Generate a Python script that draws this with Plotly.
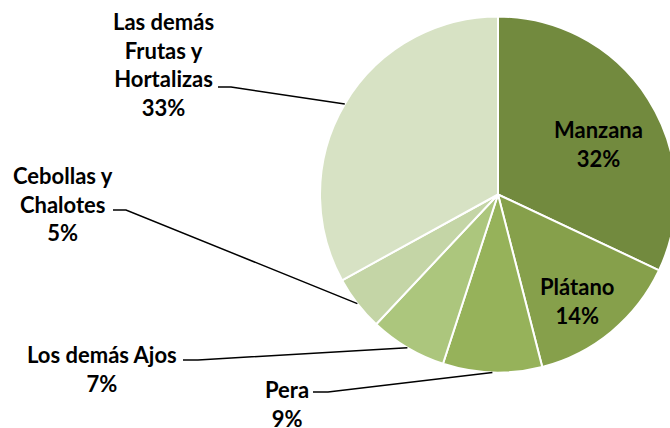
import math
import plotly.graph_objects as go

# data
labels = ["Manzana", "Plátano", "Pera", "Los demás Ajos",
          "Cebollas y Chalotes", "Las demás Frutas y Hortalizas"]
label_text = ["Manzana", "Plátano", "Pera", "Los demás Ajos",
              "Cebollas y<br>Chalotes", "Las demás<br>Frutas y<br>Hortalizas"]
shares = [32, 14, 9, 7, 5, 33]
colors = ["#728A3E", "#86A04B", "#96B25A", "#ACC67D", "#C4D5A6", "#D7E2C4"]

# figure is a bit wider than the window so the pie runs past the right edge
W, H = 690, 428
CX, CY, R = 498, 194.5, 178  # pie centre/radius in pixels

# label centres (px) and leader-line start points (None = inside slice)
label_pos = [(598, 144), (577, 301), (287, 404), (102, 369), (63, 204), (163, 64)]
leader_start = [None, None, [(313, 392), (328, 392)], [(183, 360), (198, 360)],
                [(113, 210), (126, 210)], [(218, 87), (231, 87)]]


def px(x, y):
    return x / W, 1 - y / H


x0, y1 = px(CX - R, CY - R)
x1, y0 = px(CX + R, CY + R)

fig = go.Figure(go.Pie(
    labels=labels,
    values=shares,
    sort=False,
    direction="clockwise",
    rotation=0,
    textinfo="none",
    hoverinfo="label+percent",
    marker=dict(colors=colors, line=dict(color="white", width=2)),
    domain=dict(x=[x0, x1], y=[y0, y1]),
    showlegend=False,
))

total = sum(shares)
cum = 0
for i, v in enumerate(shares):
    mid = (cum + v / 2) / total * 2 * math.pi
    cum += v
    x, y = px(*label_pos[i])
    fig.add_annotation(
        x=x, y=y, xref="paper", yref="paper", showarrow=False,
        text=f"{label_text[i]}<br>{round(v / total * 100)}%",
        font=dict(family="Lato", size=22, color="black", weight="bold"),
        xanchor="center", yanchor="middle", align="center",
    )
    if leader_start[i]:
        ex, ey = CX + R * math.sin(mid), CY - R * math.cos(mid)
        pts = [px(a, b) for a, b in leader_start[i]] + [px(ex, ey)]
        path = "M " + " L ".join(f"{a} {b}" for a, b in pts)
        fig.add_shape(type="path", path=path, xref="paper", yref="paper",
                      line=dict(color="black", width=1.5))

fig.update_layout(
    width=W, height=H,
    margin=dict(l=0, r=0, t=0, b=0),
    paper_bgcolor="white",
    plot_bgcolor="white",
)

# drop the default body margin and hide scrollbars from the wider figure
fig.write_html(
    "out.html",
    config={"displayModeBar": False},
    post_script="document.body.style.margin='0';document.body.style.overflow='hidden';",
)
